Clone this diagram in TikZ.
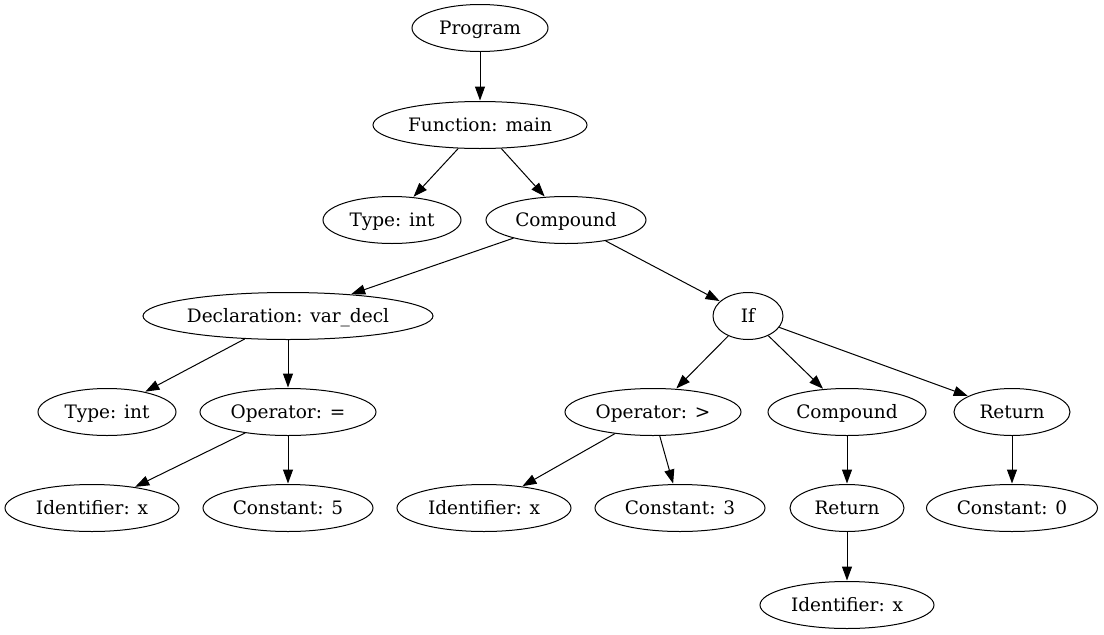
\documentclass[tikz,border=0pt]{standalone}
\usepackage{fontspec}
\setmainfont{DejaVu Serif}
\usetikzlibrary{shapes.geometric,arrows.meta}
\tikzset{
  tn/.style={draw, ellipse, line width=1pt, inner sep=0pt, minimum height=47pt, text height=16pt, text depth=2.6pt, font=\fontsize{18.5}{22}\selectfont},
  ed/.style={line width=1pt, -{Triangle[length=14pt,width=10pt]}, shorten >=0.5pt},
}
\begin{document}
\begin{tikzpicture}[x=1pt,y=-1pt]
\useasboundingbox (0,0) rectangle (1104,635);
\node[tn, minimum width=136pt] (prog) at (480,28) {Program};
\node[tn, minimum width=214pt] (func) at (480,125) {Function: main};
\node[tn, minimum width=138pt] (t1) at (392,220) {Type: int};
\node[tn, minimum width=160pt] (c1) at (566,220) {Compound};
\node[tn, minimum width=290pt] (decl) at (288,316) {Declaration: var\_decl};
\node[tn, minimum width=70pt] (if) at (748,316) {If};
\node[tn, minimum width=138pt] (t2) at (107,412) {Type: int};
\node[tn, minimum width=176pt] (opeq) at (288,412) {Operator: =};
\node[tn, minimum width=176pt] (opgt) at (653,412) {Operator: >};
\node[tn, minimum width=158pt] (c2) at (847,412) {Compound};
\node[tn, minimum width=116pt] (r1) at (1012,412) {Return};
\node[tn, minimum width=174pt] (id1) at (92,508) {Identifier: x};
\node[tn, minimum width=170pt] (k5) at (288,508) {Constant: 5};
\node[tn, minimum width=174pt] (id2) at (484,508) {Identifier: x};
\node[tn, minimum width=170pt] (k3) at (680,508) {Constant: 3};
\node[tn, minimum width=114pt] (r2) at (847,508) {Return};
\node[tn, minimum width=171pt] (k0) at (1012,508) {Constant: 0};
\node[tn, minimum width=174pt] (id3) at (847,605) {Identifier: x};
\draw[ed] (prog) -- (func);
\draw[ed] (func) -- (t1);
\draw[ed] (func) -- (c1);
\draw[ed] (c1) -- (decl);
\draw[ed] (c1) -- (if);
\draw[ed] (decl) -- (t2);
\draw[ed] (decl) -- (opeq);
\draw[ed] (opeq) -- (id1);
\draw[ed] (opeq) -- (k5);
\draw[ed] (if) -- (opgt);
\draw[ed] (if) -- (c2);
\draw[ed] (if) -- (r1);
\draw[ed] (opgt) -- (id2);
\draw[ed] (opgt) -- (k3);
\draw[ed] (c2) -- (r2);
\draw[ed] (r2) -- (id3);
\draw[ed] (r1) -- (k0);
\end{tikzpicture}
\end{document}
